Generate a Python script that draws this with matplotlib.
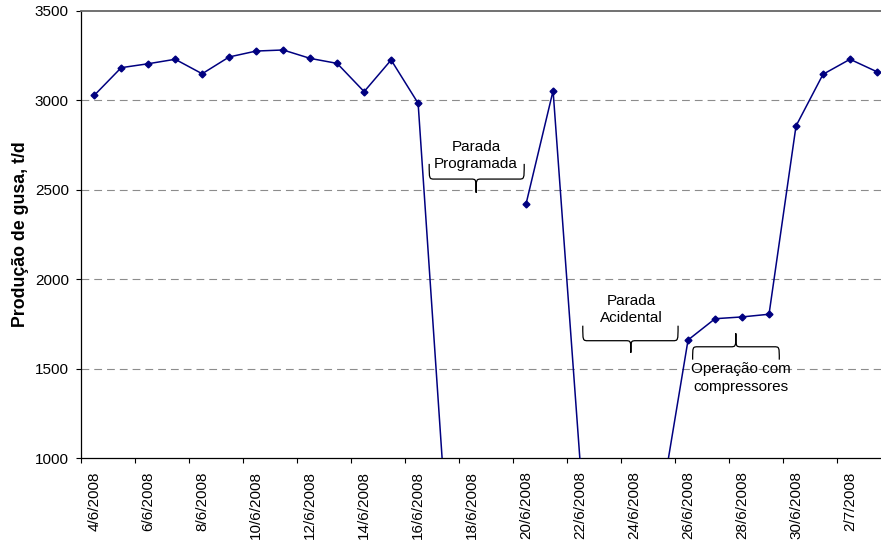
import numpy as np
import matplotlib.pyplot as plt
from matplotlib.path import Path
from matplotlib.patches import PathPatch

plt.rcParams['font.family'] = ['Liberation Sans', 'DejaVu Sans']

# produção diária de gusa (t/d); NaN = sem registro
datas = ['4/6/2008', '5/6/2008', '6/6/2008', '7/6/2008', '8/6/2008', '9/6/2008',
         '10/6/2008', '11/6/2008', '12/6/2008', '13/6/2008', '14/6/2008', '15/6/2008',
         '16/6/2008', '17/6/2008', '18/6/2008', '19/6/2008', '20/6/2008', '21/6/2008',
         '22/6/2008', '23/6/2008', '24/6/2008', '25/6/2008', '26/6/2008', '27/6/2008',
         '28/6/2008', '29/6/2008', '30/6/2008', '1/7/2008', '2/7/2008', '3/7/2008']
producao = [3028, 3183, 3205, 3230, 3149, 3243,
            3276, 3282, 3235, 3207, 3049, 3226,
            2984, 750, np.nan, np.nan, 2422, 3054,
            980, np.nan, np.nan, 750, 1660, 1779,
            1789, 1804, 2857, 3146, 3230, 3160]
yticks = [1000, 1500, 2000, 2500, 3000, 3500]

x = np.arange(len(datas))

fig = plt.figure(figsize=(8.81, 5.41), dpi=100)
ax = fig.add_axes([80.7 / 881, 83 / 541, 809.8 / 881, 447 / 541])

for v in yticks[1:-1]:
    ax.axhline(v, color='#8c8c8c', lw=0.8, ls=(0, (7, 4.5)), zorder=1)

ax.plot(x, producao, color='#000080', lw=1.1, marker='D', ms=3.5,
        mfc='#000080', mec='#000080', zorder=3)

ax.set_xlim(-0.5, 29.5)
ax.set_ylim(1000, 3500)
ax.set_yticks(yticks)
ax.tick_params(axis='y', direction='out', length=3.6, width=0.8, pad=5,
               labelsize=11)

ax.set_xticks(x[::2])
ax.set_xticklabels(datas[::2], rotation=90)
ax.set_xticks(np.arange(-0.5, 30, 2), minor=True)
ax.tick_params(axis='x', which='major', length=0, pad=9.5, labelsize=11)
ax.tick_params(axis='x', which='minor', direction='out', length=3.6, width=0.8)

ax.spines['right'].set_visible(False)
ax.spines['top'].set_color('#666666')
ax.spines['top'].set_linewidth(1.3)
ax.spines['left'].set_linewidth(0.9)
ax.spines['bottom'].set_linewidth(0.9)

ax.set_ylabel('Produção de gusa, t/d', fontsize=12.8, fontweight='bold', labelpad=4)


def chave(ax, x0, x1, xm, y_ponta, y_linha, y_fim, rx=0.2):
    # chave horizontal: pontas em y_fim, bico em y_ponta
    verts = [(x0, y_fim), (x0, y_linha), (x0, y_linha), (x0 + rx, y_linha),
             (xm - rx, y_linha), (xm, y_linha), (xm, y_linha), (xm, y_ponta),
             (xm, y_ponta), (xm, y_linha), (xm, y_linha), (xm + rx, y_linha),
             (x1 - rx, y_linha), (x1, y_linha), (x1, y_linha), (x1, y_fim)]
    codes = [Path.MOVETO, Path.CURVE4, Path.CURVE4, Path.CURVE4,
             Path.LINETO, Path.CURVE4, Path.CURVE4, Path.CURVE4,
             Path.MOVETO, Path.CURVE4, Path.CURVE4, Path.CURVE4,
             Path.LINETO, Path.CURVE4, Path.CURVE4, Path.CURVE4]
    ax.add_patch(PathPatch(Path(verts, codes), fc='none', ec='black', lw=0.9,
                           zorder=4))


chave(ax, 12.41, 15.93, 14.15, 2484, 2560, 2645)
chave(ax, 18.10, 21.63, 19.88, 1589, 1656, 1740)
chave(ax, 22.17, 25.38, 23.77, 1697, 1622, 1550)

ax.text(14.15, 2690, 'Parada\nProgramada', ha='center', va='center', fontsize=11,
        linespacing=1.3, zorder=5)
ax.text(19.9, 1830, 'Parada\nAcidental', ha='center', va='center', fontsize=11,
        linespacing=1.3, zorder=5)
ax.text(23.95, 1447, 'Operação com\ncompressores', ha='center', va='center',
        fontsize=11, linespacing=1.3, zorder=5)

fig.savefig('out.png', dpi=100)
